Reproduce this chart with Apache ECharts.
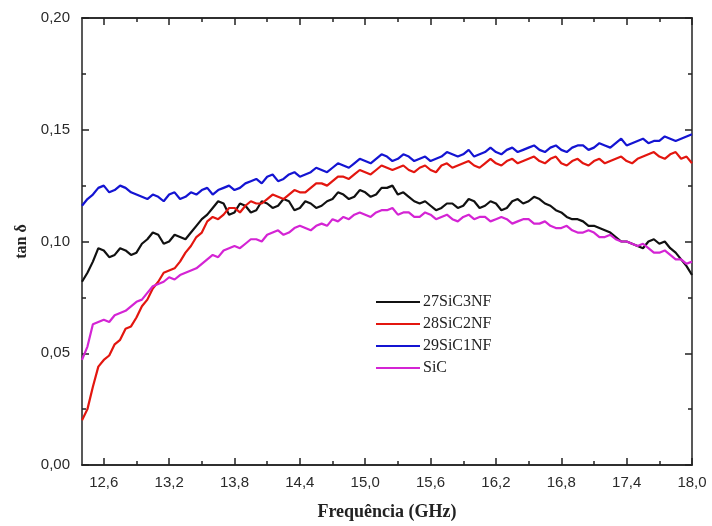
<!DOCTYPE html>
<html>
<head>
<meta charset="utf-8">
<script src="https://cdn.jsdelivr.net/npm/echarts@6/dist/echarts.min.js"></script>
<style>
  html, body { margin: 0; padding: 0; background: #fff; }
  #chart { width: 712px; height: 526px; }
</style>
</head>
<body>
<div id="chart"></div>
<script>
// frequência (GHz)
const freq = [
  12.40, 12.45, 12.50, 12.55, 12.60, 12.65, 12.70, 12.75, 12.80, 12.85,
  12.90, 12.95, 13.00, 13.05, 13.10, 13.15, 13.20, 13.25, 13.30, 13.35,
  13.40, 13.45, 13.50, 13.55, 13.60, 13.65, 13.70, 13.75, 13.80, 13.85,
  13.90, 13.95, 14.00, 14.05, 14.10, 14.15, 14.20, 14.25, 14.30, 14.35,
  14.40, 14.45, 14.50, 14.55, 14.60, 14.65, 14.70, 14.75, 14.80, 14.85,
  14.90, 14.95, 15.00, 15.05, 15.10, 15.15, 15.20, 15.25, 15.30, 15.35,
  15.40, 15.45, 15.50, 15.55, 15.60, 15.65, 15.70, 15.75, 15.80, 15.85,
  15.90, 15.95, 16.00, 16.05, 16.10, 16.15, 16.20, 16.25, 16.30, 16.35,
  16.40, 16.45, 16.50, 16.55, 16.60, 16.65, 16.70, 16.75, 16.80, 16.85,
  16.90, 16.95, 17.00, 17.05, 17.10, 17.15, 17.20, 17.25, 17.30, 17.35,
  17.40, 17.45, 17.50, 17.55, 17.60, 17.65, 17.70, 17.75, 17.80, 17.85,
  17.90, 17.95, 18.00
]

// tan δ
const sic27 = [
  0.082, 0.086, 0.091, 0.097, 0.096, 0.093, 0.094, 0.097, 0.096, 0.094,
  0.095, 0.099, 0.101, 0.104, 0.103, 0.099, 0.100, 0.103, 0.102, 0.101,
  0.104, 0.107, 0.110, 0.112, 0.115, 0.118, 0.117, 0.112, 0.113, 0.117,
  0.116, 0.113, 0.114, 0.118, 0.117, 0.115, 0.116, 0.119, 0.118, 0.114,
  0.115, 0.118, 0.117, 0.115, 0.116, 0.118, 0.119, 0.122, 0.121, 0.119,
  0.120, 0.123, 0.122, 0.120, 0.121, 0.124, 0.124, 0.125, 0.121, 0.122,
  0.120, 0.118, 0.117, 0.118, 0.116, 0.114, 0.115, 0.117, 0.117, 0.115,
  0.116, 0.119, 0.118, 0.115, 0.116, 0.118, 0.117, 0.114, 0.115, 0.118,
  0.119, 0.117, 0.118, 0.120, 0.119, 0.117, 0.116, 0.114, 0.113, 0.111,
  0.110, 0.110, 0.109, 0.107, 0.107, 0.106, 0.105, 0.104, 0.102, 0.100,
  0.100, 0.099, 0.098, 0.097, 0.100, 0.101, 0.099, 0.100, 0.097, 0.095,
  0.092, 0.089, 0.085
]

const sic28 = [
  0.020, 0.025, 0.035, 0.044, 0.047, 0.049, 0.054, 0.056, 0.061, 0.062,
  0.066, 0.071, 0.074, 0.079, 0.082, 0.086, 0.087, 0.088, 0.091, 0.095,
  0.098, 0.102, 0.104, 0.109, 0.111, 0.110, 0.112, 0.115, 0.115, 0.113,
  0.116, 0.118, 0.117, 0.117, 0.119, 0.121, 0.120, 0.119, 0.121, 0.123,
  0.122, 0.122, 0.124, 0.126, 0.126, 0.125, 0.127, 0.129, 0.129, 0.128,
  0.130, 0.132, 0.131, 0.130, 0.132, 0.134, 0.133, 0.132, 0.133, 0.134,
  0.132, 0.131, 0.133, 0.134, 0.132, 0.131, 0.134, 0.135, 0.133, 0.134,
  0.135, 0.136, 0.134, 0.133, 0.135, 0.137, 0.135, 0.134, 0.136, 0.137,
  0.135, 0.136, 0.137, 0.138, 0.136, 0.135, 0.137, 0.138, 0.135, 0.134,
  0.136, 0.137, 0.135, 0.134, 0.136, 0.137, 0.135, 0.136, 0.137, 0.138,
  0.136, 0.135, 0.137, 0.138, 0.139, 0.140, 0.138, 0.137, 0.139, 0.140,
  0.137, 0.138, 0.135
]

const sic29 = [
  0.116, 0.119, 0.121, 0.124, 0.125, 0.122, 0.123, 0.125, 0.124, 0.122,
  0.121, 0.120, 0.119, 0.121, 0.120, 0.118, 0.121, 0.122, 0.119, 0.120,
  0.122, 0.121, 0.123, 0.124, 0.121, 0.123, 0.124, 0.125, 0.123, 0.124,
  0.126, 0.127, 0.128, 0.126, 0.129, 0.130, 0.127, 0.128, 0.130, 0.131,
  0.129, 0.130, 0.131, 0.133, 0.132, 0.131, 0.133, 0.135, 0.134, 0.133,
  0.135, 0.137, 0.136, 0.135, 0.137, 0.139, 0.138, 0.136, 0.137, 0.139,
  0.138, 0.136, 0.137, 0.138, 0.136, 0.137, 0.138, 0.140, 0.139, 0.138,
  0.139, 0.141, 0.138, 0.139, 0.140, 0.142, 0.140, 0.139, 0.141, 0.142,
  0.140, 0.141, 0.142, 0.143, 0.141, 0.140, 0.142, 0.143, 0.141, 0.140,
  0.142, 0.143, 0.143, 0.141, 0.142, 0.144, 0.143, 0.142, 0.144, 0.146,
  0.143, 0.144, 0.145, 0.146, 0.144, 0.145, 0.145, 0.147, 0.146, 0.145,
  0.146, 0.147, 0.148
]

const sic = [
  0.047, 0.053, 0.063, 0.064, 0.065, 0.064, 0.067, 0.068, 0.069, 0.071,
  0.073, 0.074, 0.077, 0.080, 0.081, 0.082, 0.084, 0.083, 0.085, 0.086,
  0.087, 0.088, 0.090, 0.092, 0.094, 0.093, 0.096, 0.097, 0.098, 0.097,
  0.099, 0.101, 0.101, 0.100, 0.103, 0.104, 0.105, 0.103, 0.104, 0.106,
  0.107, 0.106, 0.105, 0.107, 0.108, 0.107, 0.110, 0.109, 0.111, 0.110,
  0.112, 0.113, 0.112, 0.111, 0.113, 0.114, 0.114, 0.115, 0.112, 0.113,
  0.113, 0.111, 0.111, 0.113, 0.112, 0.110, 0.111, 0.112, 0.110, 0.109,
  0.111, 0.112, 0.110, 0.111, 0.111, 0.109, 0.110, 0.111, 0.110, 0.108,
  0.109, 0.110, 0.110, 0.108, 0.108, 0.109, 0.107, 0.106, 0.106, 0.107,
  0.105, 0.104, 0.104, 0.105, 0.104, 0.102, 0.102, 0.103, 0.101, 0.100,
  0.100, 0.099, 0.098, 0.099, 0.097, 0.095, 0.095, 0.096, 0.094, 0.092,
  0.092, 0.090, 0.091
]

const xMajor = [12.6, 13.2, 13.8, 14.4, 15.0, 15.6, 16.2, 16.8, 17.4, 18.0]
const xMinor = [12.9, 13.5, 14.1, 14.7, 15.3, 15.9, 16.5, 17.1, 17.7]

const seriesNames = ['27SiC3NF', '28SiC2NF', '29SiC1NF', 'SiC']
const seriesColors = ['#111111', '#e3160f', '#1414d2', '#d424d4']
const seriesValues = [sic27, sic28, sic29, sic]

// vírgula decimal
const comma = v => v.toFixed(v < 1 ? 2 : 1).replace('.', ',')

const chart = echarts.init(document.getElementById('chart'))

const axisColor = '#222'
const axisLine = { show: true, onZero: false, lineStyle: { color: axisColor, width: 1.5 } }
const tickStyle = { color: axisColor, width: 1.5 }

// eixo x base; os outros eixos só desenham ticks (baixo/cima, maiores/menores)
const baseX = {
  type: 'value',
  min: 12.4,
  max: 18.0,
  splitLine: { show: false },
  axisLine: axisLine
}

const option = {
  animation: false,
  backgroundColor: '#fff',
  grid: { left: 82, right: 20, top: 18, bottom: 58 },
  legend: {
    orient: 'vertical',
    left: 371,
    top: 289,
    itemWidth: 44,
    itemHeight: 2,
    itemGap: 6,
    icon: 'rect',
    textStyle: { fontFamily: 'Liberation Serif', fontSize: 16, color: '#222', padding: [0, 0, 0, -2] },
    data: seriesNames
  },
  xAxis: [
    Object.assign({}, baseX, {
      position: 'bottom',
      name: 'Frequência (GHz)',
      nameLocation: 'middle',
      nameGap: 38,
      nameTextStyle: { fontFamily: 'Liberation Serif', fontWeight: 'bold', fontSize: 18, color: '#222' },
      axisTick: { inside: true, length: 7, customValues: xMajor, lineStyle: tickStyle },
      axisLabel: {
        customValues: xMajor,
        fontFamily: 'Liberation Sans', fontSize: 15, color: '#2a2a2a', margin: 10,
        formatter: v => comma(v)
      }
    }),
    Object.assign({}, baseX, {
      position: 'bottom',
      axisTick: { inside: true, length: 4, customValues: xMinor, lineStyle: tickStyle },
      axisLabel: { show: false }
    }),
    Object.assign({}, baseX, {
      position: 'top',
      axisTick: { inside: true, length: 7, customValues: xMajor, lineStyle: tickStyle },
      axisLabel: { show: false }
    }),
    Object.assign({}, baseX, {
      position: 'top',
      axisTick: { inside: true, length: 4, customValues: xMinor, lineStyle: tickStyle },
      axisLabel: { show: false }
    })
  ],
  yAxis: [
    {
      type: 'value',
      position: 'left',
      min: 0,
      max: 0.2,
      interval: 0.05,
      name: 'tan δ',
      nameLocation: 'middle',
      nameRotate: 90,
      nameGap: 42,
      nameTextStyle: { fontFamily: 'Liberation Serif', fontWeight: 'bold', fontSize: 16, color: '#222' },
      splitLine: { show: false },
      axisLine: axisLine,
      axisTick: { inside: true, length: 7, lineStyle: tickStyle },
      minorTick: { show: true, splitNumber: 2, length: 4, lineStyle: tickStyle },
      axisLabel: { fontFamily: 'Liberation Sans', fontSize: 15, color: '#2a2a2a', margin: 12, formatter: v => comma(v) }
    },
    {
      type: 'value',
      position: 'right',
      min: 0,
      max: 0.2,
      interval: 0.05,
      splitLine: { show: false },
      axisLine: axisLine,
      axisTick: { inside: true, length: 7, lineStyle: tickStyle },
      minorTick: { show: true, splitNumber: 2, length: 4, lineStyle: tickStyle },
      axisLabel: { show: false }
    }
  ],
  series: seriesNames.map((name, i) => ({
    name: name,
    type: 'line',
    xAxisIndex: 0,
    yAxisIndex: 0,
    showSymbol: false,
    color: seriesColors[i],
    lineStyle: { width: 2.2, color: seriesColors[i] },
    data: freq.map((f, k) => [f, seriesValues[i][k]])
  }))
}

chart.setOption(option)
</script>
</body>
</html>
